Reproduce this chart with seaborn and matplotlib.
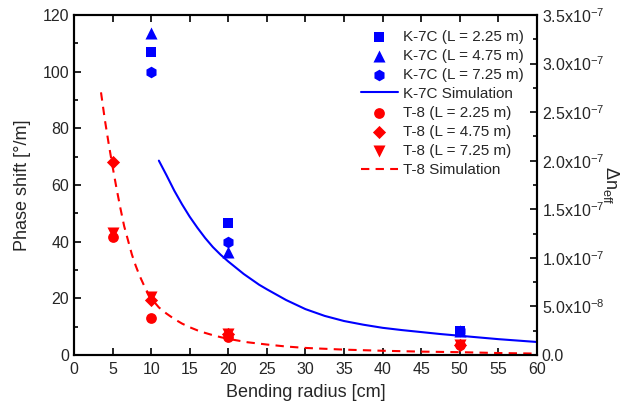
import matplotlib
matplotlib.use("Agg")
import math
import matplotlib.pyplot as plt
from matplotlib.ticker import MultipleLocator, FuncFormatter
import seaborn as sns

sns.set_theme(style="ticks")
plt.rcParams['font.family'] = ['Liberation Sans', 'DejaVu Sans']
plt.rcParams['mathtext.default'] = 'regular'

# ---- data ----
radius = [10, 20, 50]
k7c_225 = [107.0, 46.5, 8.5]
k7c_475 = [113.8, 36.3, 8.5]
k7c_725 = [100.0, 40.0, 8.5]

radius_t8 = [5, 10, 20, 50]
t8_225 = [41.5, 13.0, 6.5, 3.5]
t8_475 = [68.0, 19.5, 7.5, 3.5]
t8_725 = [43.0, 20.5, 7.5, 3.5]

k7c_sim_r = [11.0, 12.0, 13.0, 14.0, 15.0, 16.0, 17.0, 18.0, 19.0, 20.0, 22.0, 24.0, 25.0,
             27.5, 30.0, 32.5, 35.0, 37.5, 40.0, 42.5, 45.0, 47.5, 50.0, 52.5, 55.0, 57.5, 60.0]
k7c_sim_y = [68.6, 63.4, 58.0, 53.2, 48.8, 44.9, 41.3, 38.1, 35.4, 33.0, 28.6, 24.8, 23.2,
             19.4, 16.2, 13.8, 12.0, 10.7, 9.6, 8.8, 8.1, 7.4, 6.8, 6.2, 5.6, 5.1, 4.6]

t8_sim_r = [3.5, 4.0, 4.5, 5.0, 5.5, 6.0, 6.5, 7.0, 7.5, 8.0, 8.5, 9.0, 9.5, 10.0, 11.0, 12.0,
            13.0, 14.0, 15.0, 16.0, 17.0, 18.0, 19.0, 20.0, 22.5, 25.0, 27.5, 30.0, 35.0, 40.0,
            45.0, 50.0, 55.0, 60.0]
t8_sim_y = [92.7, 83.0, 74.5, 66.5, 59.0, 52.0, 45.5, 40.5, 35.5, 31.5, 28.0, 25.0, 22.3, 20.0,
            16.8, 14.6, 12.7, 11.1, 9.8, 8.7, 7.8, 7.0, 6.3, 5.7, 4.5, 3.7, 3.0, 2.5, 1.9, 1.5,
            1.2, 1.0, 0.7, 0.5]

labels = ["K-7C (L = 2.25 m)", "K-7C (L = 4.75 m)", "K-7C (L = 7.25 m)", "K-7C Simulation",
          "T-8 (L = 2.25 m)", "T-8 (L = 4.75 m)", "T-8 (L = 7.25 m)", "T-8 Simulation"]

fig = plt.figure(figsize=(6.25, 4.13), dpi=100)
ax = fig.add_axes([0.1184, 0.1404, 0.7406, 0.8233])

blue = "#0000ff"
red = "#ff0000"

sns.lineplot(x=k7c_sim_r, y=k7c_sim_y, ax=ax, color=blue, lw=1.5, label=labels[3])
sns.lineplot(x=t8_sim_r, y=t8_sim_y, ax=ax, color=red, lw=1.5, label=labels[7])
ax.lines[-1].set_dashes([4, 3])

sns.scatterplot(x=radius, y=k7c_225, ax=ax, color=blue, marker="s", s=45, linewidth=0, label=labels[0])
sns.scatterplot(x=radius, y=k7c_475, ax=ax, color=blue, marker="^", s=75, linewidth=0, label=labels[1])
sns.scatterplot(x=radius, y=k7c_725, ax=ax, color=blue, marker="h", s=70, linewidth=0, label=labels[2])
sns.scatterplot(x=radius_t8, y=t8_225, ax=ax, color=red, marker="o", s=60, linewidth=0, label=labels[4])
sns.scatterplot(x=radius_t8, y=t8_475, ax=ax, color=red, marker="D", s=45, linewidth=0, label=labels[5])
sns.scatterplot(x=radius_t8, y=t8_725, ax=ax, color=red, marker="v", s=75, linewidth=0, label=labels[6])

handles, labs = ax.get_legend_handles_labels()
hmap = dict(zip(labs, handles))
leg = ax.legend([hmap[l] for l in labels], labels, loc="upper right", frameon=False,
                fontsize=11, handlelength=2.4, handletextpad=0.35, labelspacing=0.33,
                bbox_to_anchor=(0.985, 0.975), borderaxespad=0)

ax.set_xlim(0, 60)
ax.set_ylim(0, 120)
ax.xaxis.set_major_locator(MultipleLocator(5))
ax.yaxis.set_major_locator(MultipleLocator(20))
ax.yaxis.set_minor_locator(MultipleLocator(10))
ax.set_xlabel("Bending radius [cm]", fontsize=13, labelpad=5)
ax.set_ylabel("Phase shift [°/m]", fontsize=13, labelpad=8)
ax.tick_params(axis="both", which="both", direction="in", labelsize=11.5, width=1.2, color="black")
ax.tick_params(axis="x", pad=5)
ax.tick_params(which="major", length=5, top=True, right=False)
ax.tick_params(which="minor", length=3, top=False)
for s in ax.spines.values():
    s.set_linewidth(1.5)
    s.set_color("black")

ax2 = ax.twinx()
ax2.set_ylim(0, 3.5e-7)
ax2.yaxis.set_major_locator(MultipleLocator(5e-8))
ax2.yaxis.set_minor_locator(MultipleLocator(2.5e-8))


def fmt(v, pos):
    if abs(v) < 1e-12:
        return "0.0"
    e = int(math.floor(math.log10(abs(v)) + 1e-9))
    m = v / 10 ** e
    return r"%.1fx10$^{%d}$" % (m, e)


ax2.yaxis.set_major_formatter(FuncFormatter(fmt))
ax2.tick_params(axis="y", which="both", direction="in", labelsize=11.5, width=1.2, color="black")
ax2.tick_params(which="major", length=5)
ax2.tick_params(which="minor", length=3)
ax2.set_ylabel(r"$\Delta n_{eff}$", fontsize=13, rotation=270, labelpad=12)
for s in ax2.spines.values():
    s.set_linewidth(1.5)
    s.set_color("black")

fig.savefig("out.png", dpi=100)
